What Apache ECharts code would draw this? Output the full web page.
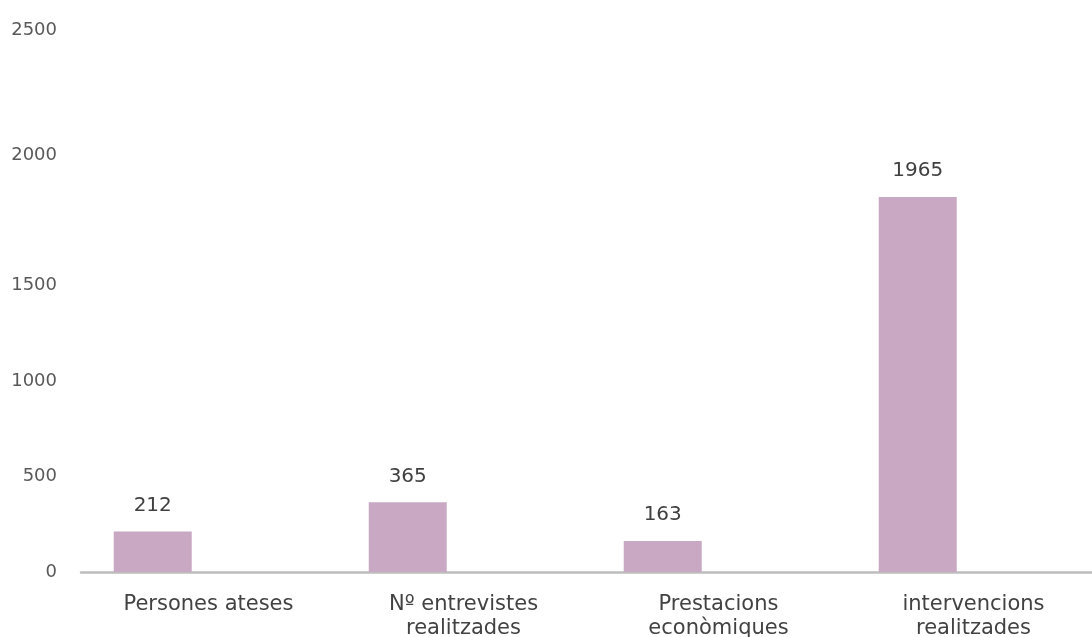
<!DOCTYPE html>
<html>
<head>
<meta charset="utf-8">
<script src="https://cdn.jsdelivr.net/npm/echarts@6/dist/echarts.min.js"></script>
<style>html,body{margin:0;padding:0;background:#fff}#c{width:1092px;height:637px}</style>
</head>
<body>
<div id="c"></div>
<script>
const categories = ['Persones ateses', 'Nº entrevistes\nrealitzades', 'Prestacions\neconòmiques', 'intervencions\nrealitzades'];
const values = [212, 365, 163, 1965];
const yTicks = [0, 500, 1000, 1500, 2000, 2500];

const chart = echarts.init(document.getElementById('c'));
const font = 'DejaVu Sans';
chart.setOption({
  animation: false,
  grid: { left: 81, width: 1020, top: 95, height: 477, containLabel: false, outerBoundsMode: 'none' },
  xAxis: {
    type: 'category',
    data: categories,
    axisLine: { lineStyle: { color: '#bdbdbd', width: 2.5 } },
    axisTick: { show: false },
    axisLabel: { color: '#424242', fontFamily: font, fontSize: 21, lineHeight: 24, margin: 21 }
  },
  yAxis: {
    type: 'value',
    min: yTicks[0],
    max: yTicks[yTicks.length - 1],
    interval: 500,
    splitLine: { show: false },
    axisLine: { show: false },
    axisTick: { show: false },
    axisLabel: {
      color: '#595959', fontFamily: font, fontSize: 18, margin: 24,
      formatter: function (v) {
        if (v === 2000) return '{a|' + v + '}';
        if (v === 2500) return '{b|' + v + '}';
        return String(v);
      },
      rich: {
        a: { color: '#595959', fontFamily: font, fontSize: 18, padding: [0, 0, 70, 0] },
        b: { color: '#595959', fontFamily: font, fontSize: 18, padding: [0, 0, 130, 0] }
      }
    }
  },
  series: [
    {
      type: 'bar',
      data: values,
      barWidth: 78,
      barGap: '43%',
      itemStyle: { color: '#c8a8c3' },
      label: { show: true, position: 'top', distance: 16, color: '#404040', fontFamily: font, fontSize: 20 }
    },
    {
      type: 'bar',
      data: [],
      barWidth: 78
    }
  ]
});
</script>
</body>
</html>
